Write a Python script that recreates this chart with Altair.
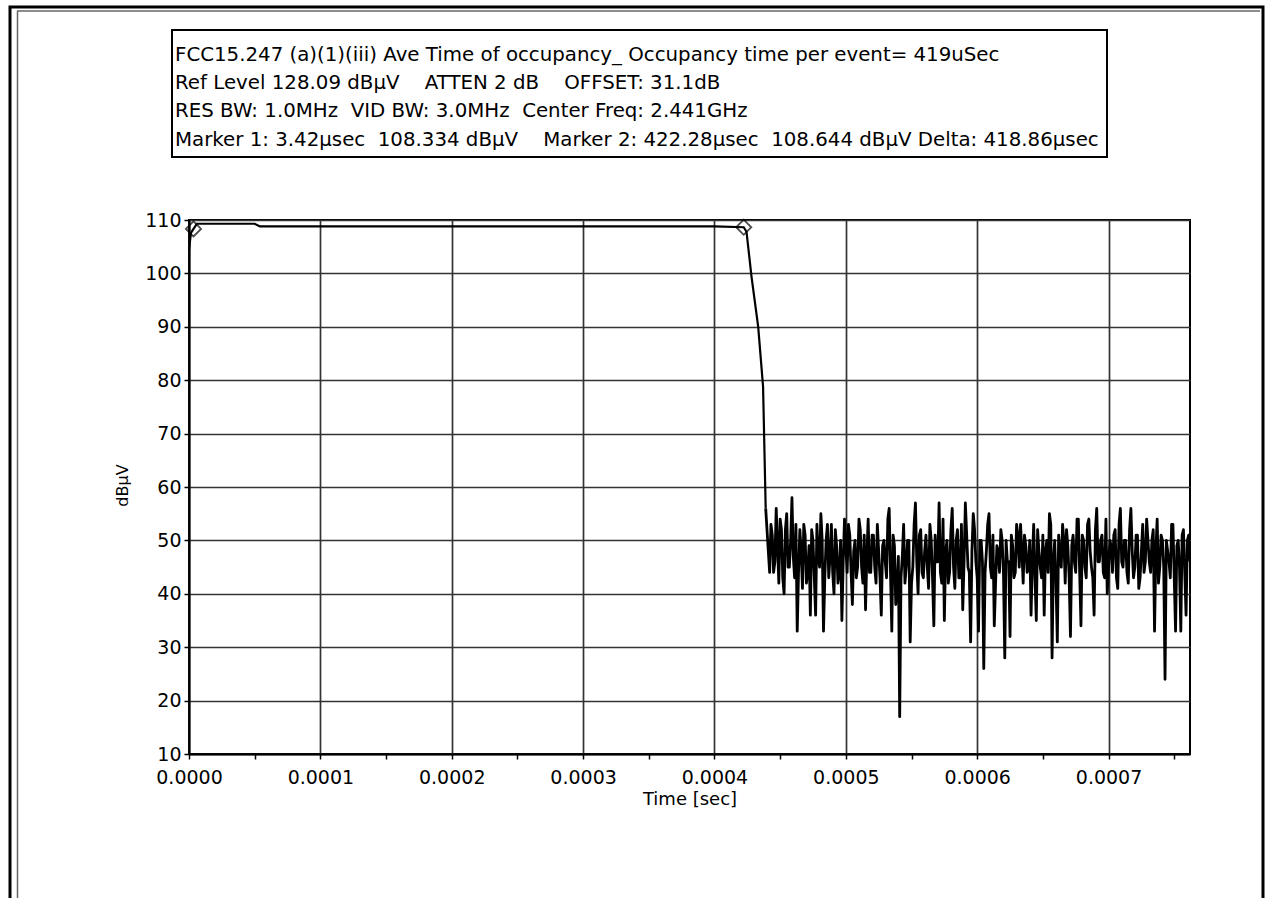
import altair as alt
import numpy as np
import pandas as pd

# ---------------- data ----------------
# pulse part: time in microseconds, level in dBuV
pulse_t_us = [0.0, 1.5, 3.42, 6.0, 50.0, 54.0, 200.0, 400.0, 422.28, 424.4, 428.2, 433.3, 437.0]
pulse_v = [104.5, 107.6, 108.334, 109.3, 109.3, 108.8, 108.8, 108.8, 108.644, 107.8, 99.4, 90.0, 78.8]

# noise floor after the pulse, one sweep point every 1 us starting at 439 us
# (odd-index points and even-index points read separately)
noise_start_us = 439.0
noise_step_us = 1.0
noise_a = [
    56, 48, 53, 44, 56, 42, 52, 40, 55, 45, 58, 43, 33, 52, 41, 51, 44, 36, 50, 36,
    47, 55, 33, 50, 43, 53, 40, 49, 44, 35, 54, 44, 51, 38, 50, 45, 52, 42, 37, 54,
    44, 51, 42, 48, 36, 50, 43, 56, 33, 49, 41, 17, 47, 42, 50, 31, 45, 57, 40, 52,
    43, 51, 41, 50, 34, 46, 57, 42, 35, 50, 44, 56, 41, 52, 43, 37, 57, 45, 31, 55,
    46, 33, 50, 26, 48, 55, 43, 34, 49, 44, 50, 28, 46, 32, 49, 44, 51, 53, 42, 49,
    45, 36, 53, 35, 48, 43, 36, 50, 55, 28, 50, 31, 47, 53, 42, 49, 32, 51, 44, 54,
    34, 50, 43, 54, 45, 36, 56, 46, 51, 43, 40, 50, 44, 52, 41, 56, 45, 50, 42, 56,
    43, 51, 41, 48, 44, 54, 46, 50, 33, 54, 45, 50, 24, 48, 43, 53, 33, 50, 33, 52,
    36, 51,
]
noise_b = [
    52, 44, 51, 46, 49, 54, 43, 52, 45, 50, 47, 53, 44, 48, 53, 42, 49, 52, 43, 53,
    45, 50, 43, 53, 47, 44, 52, 42, 50, 46, 49, 53, 44, 48, 43, 54, 45, 51, 47, 44,
    51, 45, 53, 43, 49, 46, 54, 44, 51, 38, 47, 43, 53, 45, 50, 42, 53, 46, 51, 44,
    48, 45, 53, 43, 51, 46, 44, 54, 48, 42, 52, 45, 50, 43, 53, 46, 51, 44, 48, 52,
    43, 50, 46, 44, 53, 45, 51, 42, 48, 52, 44, 50, 46, 51, 43, 53, 45, 48, 51, 44,
    50, 46, 43, 52, 45, 51, 48, 44, 53, 46, 42, 51, 45, 50, 52, 43, 49, 46, 54, 44,
    51, 45, 53, 48, 43, 52, 46, 50, 44, 54, 45, 49, 51, 43, 53, 46, 50, 44, 52, 48,
    45, 51, 43, 53, 46, 50, 44, 52, 48, 42, 51, 45, 50, 46, 53, 43, 49, 45, 51, 44,
    50, 46,
]

marker_t_us = [3.42, 422.28]
marker_v = [108.334, 108.644]

x_ticks = [0.0, 0.00005, 0.0001, 0.00015, 0.0002, 0.00025, 0.0003, 0.00035,
           0.0004, 0.00045, 0.0005, 0.00055, 0.0006, 0.00065, 0.0007, 0.00075]
y_ticks = [10, 15, 20, 25, 30, 35, 40, 45, 50, 55, 60, 65, 70, 75, 80, 85, 90,
           95, 100, 105, 110]
x_domain = [0.0, 0.000762]
y_domain = [10, 110]

NB = "\u00a0"
header_lines = [
    "FCC15.247 (a)(1)(iii) Ave Time of occupancy_ Occupancy time per event= 419uSec",
    "Ref Level 128.09 dBµV" + NB * 4 + "ATTEN 2 dB" + NB * 4 + "OFFSET: 31.1dB",
    "RES BW: 1.0MHz" + NB * 2 + "VID BW: 3.0MHz" + NB * 2 + "Center Freq: 2.441GHz",
    "Marker 1: 3.42µsec" + NB * 2 + "108.334 dBµV" + NB * 4 + "Marker 2: 422.28µsec"
    + NB * 2 + "108.644 dBµV Delta: 418.86µsec",
]

# ---------------- build tables ----------------
noise_v = [v for pair in zip(noise_a, noise_b) for v in pair]
noise_t_us = [noise_start_us + i * noise_step_us for i in range(len(noise_v))]
pulse_df = pd.DataFrame({
    "t": [t * 1e-6 for t in pulse_t_us + noise_t_us[:1]],
    "v": pulse_v + noise_v[:1],
})
noise_df = pd.DataFrame({
    "t": [t * 1e-6 for t in noise_t_us],
    "v": noise_v,
})
markers = pd.DataFrame({"t": [t * 1e-6 for t in marker_t_us], "v": marker_v})

FONT = "DejaVu Sans"
W, H = 1001, 534
PL, PT = 189, 220

xscale = alt.Scale(domain=x_domain, nice=False, zero=False)
yscale = alt.Scale(domain=y_domain, nice=False, zero=False)

x_axis = alt.Axis(
    values=x_ticks,
    labelExpr="round(datum.value*20000) % 2 == 0 ? format(datum.value, '.4f') : ''",
    title="Time [sec]",
    grid=True,
    gridColor="#333333",
    gridWidth=1.7,
    gridOpacity={"condition": {"test": "round(datum.value*20000) % 2 == 0", "value": 1}, "value": 0},
    domainColor="black", domainWidth=2,
    tickColor="black", tickWidth=1.5, tickSize=5,
    labelFont=FONT, labelFontSize=19, labelColor="black", labelPadding=9,
    labelFlush=False,
    titleFont=FONT, titleFontSize=18, titleFontWeight="normal", titleColor="black",
    titleY=45, titleBaseline="middle",
)
y_axis = alt.Axis(
    values=y_ticks,
    labelExpr="datum.value % 10 == 0 ? datum.label : ''",
    title="dBµV",
    grid=True,
    gridColor="#333333",
    gridWidth=1.7,
    gridOpacity={"condition": {"test": "datum.value % 10 == 0", "value": 1}, "value": 0},
    domainColor="black", domainWidth=2,
    tickColor="black", tickWidth=1.5, tickSize=5,
    labelFont=FONT, labelFontSize=19, labelColor="black", labelPadding=3,
    labelFlush=False,
    titleFont=FONT, titleFontSize=16, titleFontWeight="normal", titleColor="black",
    titleX=-67, titleY=265, titleBaseline="middle", titleAngle=-90,
)

pulse_line = alt.Chart(pulse_df).mark_line(color="black", strokeWidth=2.2, clip=True).encode(
    x=alt.X("t:Q", scale=xscale, axis=x_axis),
    y=alt.Y("v:Q", scale=yscale, axis=y_axis),
    order=alt.Order("t:Q"),
)
noise_line = alt.Chart(noise_df).mark_line(
    color="black", strokeWidth=2.8, clip=True, strokeJoin="round"
).encode(
    x=alt.X("t:Q", scale=xscale),
    y=alt.Y("v:Q", scale=yscale),
    order=alt.Order("t:Q"),
)

pts = alt.Chart(markers).mark_point(
    shape="diamond", filled=False, color="black", strokeWidth=1.8, size=230
).encode(x=alt.X("t:Q", scale=xscale), y=alt.Y("v:Q", scale=yscale))

dummy = pd.DataFrame({"a": [0]})

# outer frame
frame = alt.Chart(dummy).mark_rect(filled=False, stroke="black", strokeWidth=3).encode(
    x=alt.value(10 - PL), x2=alt.value(1263 - PL), y=alt.value(7 - PT), y2=alt.value(960 - PT)
)
inner_top = alt.Chart(dummy).mark_rule(color="#666666", strokeWidth=1.5).encode(
    x=alt.value(17 - PL), x2=alt.value(1260 - PL), y=alt.value(11 - PT)
)
inner_left = alt.Chart(dummy).mark_rule(color="#666666", strokeWidth=1.5).encode(
    x=alt.value(17.5 - PL), y=alt.value(11 - PT), y2=alt.value(960 - PT)
)

# header box
box = alt.Chart(dummy).mark_rect(fill="white", stroke="black", strokeWidth=2).encode(
    x=alt.value(172 - PL), x2=alt.value(1107 - PL), y=alt.value(30 - PT), y2=alt.value(157 - PT)
)
line_y = [55, 83, 111, 140]
texts = []
for txt, yy in zip(header_lines, line_y):
    texts.append(
        alt.Chart(pd.DataFrame({"s": [txt]})).mark_text(
            align="left", baseline="middle", font=FONT, fontSize=19.8, color="black"
        ).encode(text="s:N", x=alt.value(175 - PL), y=alt.value(yy - PT))
    )

chart = alt.layer(frame, inner_top, inner_left, box, *texts, pulse_line, noise_line, pts).properties(
    width=W, height=H,
    autosize=alt.AutoSizeParams(type="none"),
    padding={"left": PL, "top": PT, "right": 1270 - PL - W, "bottom": 898 - PT - H},
    background="white",
).configure_view(stroke="black", strokeWidth=2)

chart.save("out.html", embed_options={"renderer": "svg", "actions": False})
